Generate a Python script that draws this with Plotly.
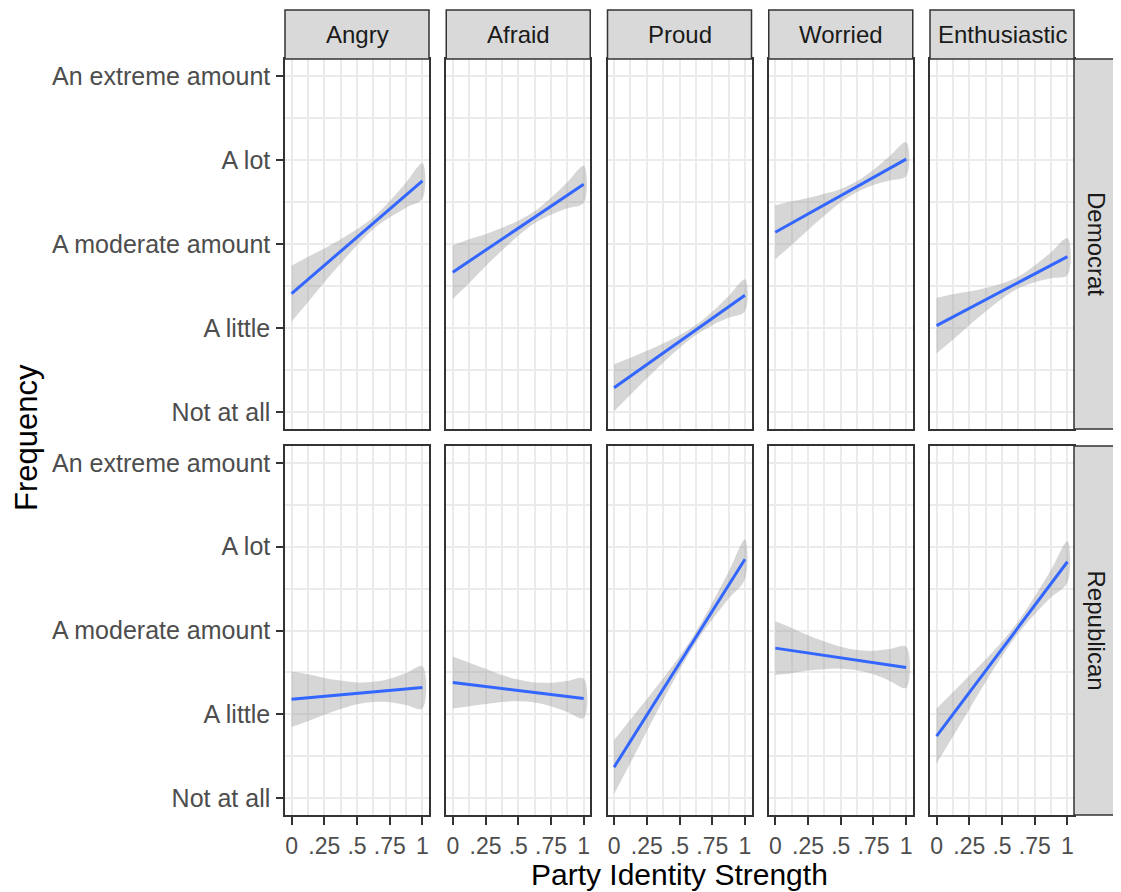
import plotly.graph_objects as go

# ---------------- data ----------------
emotions = ["Angry", "Afraid", "Proud", "Worried", "Enthusiastic"]
parties = ["Democrat", "Republican"]
freq_levels = [1, 2, 3, 4, 5]
freq_labels = ["Not at all", "A little", "A moderate amount", "A lot", "An extreme amount"]
x_ticks = [0, 0.25, 0.5, 0.75, 1]
x_ticklabels = ["0", ".25", ".5", ".75", "1"]

# fitted line values at strength 0 and 1
dem_fit_start = [2.41, 2.665, 1.29, 3.14, 2.03]
dem_fit_end = [3.75, 3.71, 2.39, 4.01, 2.85]
rep_fit_start = [2.18, 2.38, 1.37, 2.79, 1.74]
rep_fit_end = [2.32, 2.19, 3.85, 2.56, 3.82]

# confidence band half-widths at strength 0, .125, ..., 1
band_x = [0, 0.125, 0.25, 0.375, 0.5, 0.625, 0.75, 0.875, 1]
dem_halfwidth = [
    [0.33, 0.27, 0.20, 0.145, 0.094, 0.07, 0.097, 0.15, 0.21],
    [0.32, 0.26, 0.19, 0.135, 0.09, 0.07, 0.10, 0.155, 0.22],
    [0.28, 0.22, 0.165, 0.115, 0.075, 0.06, 0.08, 0.13, 0.19],
    [0.32, 0.26, 0.19, 0.13, 0.08, 0.065, 0.09, 0.145, 0.20],
    [0.33, 0.27, 0.20, 0.14, 0.09, 0.07, 0.10, 0.155, 0.22],
]
rep_halfwidth = [
    [0.33, 0.28, 0.22, 0.17, 0.13, 0.12, 0.14, 0.19, 0.25],
    [0.31, 0.26, 0.21, 0.16, 0.13, 0.12, 0.14, 0.185, 0.235],
    [0.32, 0.26, 0.19, 0.13, 0.08, 0.065, 0.10, 0.16, 0.235],
    [0.32, 0.27, 0.21, 0.165, 0.13, 0.12, 0.14, 0.19, 0.245],
    [0.33, 0.265, 0.20, 0.135, 0.085, 0.07, 0.105, 0.165, 0.245],
]

# ---------------- layout geometry (pixels, page coords) ----------------
W, H = 1121, 892
OFF = 8  # browser default body margin
FW, FH = W - OFF, H - OFF
col_left = [285, 446.25, 607.5, 768.75, 930]
panel_w = 144
row_top = [59, 446]
panel_h = [370, 369]
strip_top = 10
strip_right_w = 60

def px_x(v):
    return (v - OFF) / FW

def px_y(v):
    return 1 - (v - OFF) / FH

FONT = "Liberation Sans, Arial, Helvetica, sans-serif"
fig = go.Figure()
line_color = "#3366FF"
band_fill = "rgba(153,153,153,0.4)"

fits_start = [dem_fit_start, rep_fit_start]
fits_end = [dem_fit_end, rep_fit_end]
halfw = [dem_halfwidth, rep_halfwidth]

for r in range(2):
    for c in range(5):
        n = r * 5 + c + 1
        xa = "x" if n == 1 else f"x{n}"
        ya = "y" if n == 1 else f"y{n}"
        y0, y1 = fits_start[r][c], fits_end[r][c]
        fit_at = [y0 + (y1 - y0) * bx for bx in band_x]
        upper = [f + h for f, h in zip(fit_at, halfw[r][c])]
        lower = [f - h for f, h in zip(fit_at, halfw[r][c])]
        fig.add_trace(go.Scatter(
            x=band_x + band_x[::-1], y=upper + lower[::-1],
            fill="toself", fillcolor=band_fill, line=dict(width=0, shape="spline"),
            mode="lines", hoverinfo="skip", showlegend=False,
            xaxis=xa, yaxis=ya))
        fig.add_trace(go.Scatter(
            x=[0, 1], y=[y0, y1], mode="lines",
            line=dict(color=line_color, width=3),
            showlegend=False, xaxis=xa, yaxis=ya))

        xd = [px_x(col_left[c]), px_x(col_left[c] + panel_w)]
        yd = [px_y(row_top[r] + panel_h[r]), px_y(row_top[r])]
        xkey = "xaxis" if n == 1 else f"xaxis{n}"
        ykey = "yaxis" if n == 1 else f"yaxis{n}"
        show_x = (r == 1)
        show_y = (c == 0)
        fig.layout[xkey] = dict(
            domain=xd, anchor=ya, range=[-0.05, 1.05],
            tickmode="array", tickvals=x_ticks, ticktext=x_ticklabels,
            showticklabels=show_x, ticks="outside" if show_x else "",
            ticklen=8, tickwidth=2, tickcolor="#333333", ticklabelstandoff=2,
            tickfont=dict(family=FONT, size=23, color="#4D4D4D"),
            showgrid=True, gridcolor="#EBEBEB", gridwidth=2,
            minor=dict(tickmode="array", tickvals=[0.125, 0.375, 0.625, 0.875],
                       showgrid=True, gridcolor="#EBEBEB", gridwidth=1.6, ticks=""),
            zeroline=False, showline=True, linecolor="#333333", linewidth=1.5,
            mirror=True, fixedrange=True, automargin=False)
        fig.layout[ykey] = dict(
            domain=yd, anchor=xa, range=[0.8, 5.2],
            tickmode="array", tickvals=freq_levels, ticktext=freq_labels,
            showticklabels=show_y, ticks="outside" if show_y else "",
            ticklen=7, tickwidth=2, tickcolor="#333333", ticklabelstandoff=1,
            tickfont=dict(family=FONT, size=25, color="#4D4D4D"),
            showgrid=True, gridcolor="#EBEBEB", gridwidth=2,
            minor=dict(tickmode="array", tickvals=[1.5, 2.5, 3.5, 4.5],
                       showgrid=True, gridcolor="#EBEBEB", gridwidth=1.6, ticks=""),
            zeroline=False, showline=True, linecolor="#333333", linewidth=1.5,
            mirror=True, fixedrange=True, automargin=False)

shapes = []
annotations = []
# top strips
for c, name in enumerate(emotions):
    x0, x1 = col_left[c], col_left[c] + panel_w
    shapes.append(dict(type="rect", xref="paper", yref="paper",
                       x0=px_x(x0), x1=px_x(x1), y0=px_y(row_top[0]), y1=px_y(strip_top),
                       fillcolor="#D9D9D9", line=dict(color="#333333", width=1.5),
                       layer="above"))
    annotations.append(dict(xref="paper", yref="paper", x=px_x((x0 + x1) / 2),
                            y=px_y((strip_top + row_top[0]) / 2), text=name,
                            showarrow=False, xanchor="center", yanchor="middle",
                            font=dict(family=FONT, size=24, color="#1A1A1A")))
# right strips
rx0 = col_left[4] + panel_w
for r, name in enumerate(parties):
    shapes.append(dict(type="rect", xref="paper", yref="paper",
                       x0=px_x(rx0), x1=px_x(rx0 + strip_right_w),
                       y0=px_y(row_top[r] + panel_h[r]), y1=px_y(row_top[r]),
                       fillcolor="#D9D9D9", line=dict(color="#333333", width=1.5),
                       layer="above"))
    annotations.append(dict(xref="paper", yref="paper", x=px_x(rx0 + 22),
                            y=px_y(row_top[r] + panel_h[r] / 2), text=name,
                            showarrow=False, xanchor="center", yanchor="middle",
                            textangle=90,
                            font=dict(family=FONT, size=24, color="#1A1A1A")))

annotations.append(dict(xref="paper", yref="paper", x=px_x(679), y=px_y(874),
                        text="Party Identity Strength", showarrow=False,
                        xanchor="center", yanchor="middle", borderpad=0,
                        font=dict(family=FONT, size=30, color="#000000")))
annotations.append(dict(xref="paper", yref="paper", x=px_x(26), y=px_y(438),
                        text="Frequency", showarrow=False, textangle=-90,
                        xanchor="center", yanchor="middle", borderpad=0,
                        font=dict(family=FONT, size=31, color="#000000")))

fig.update_layout(width=FW, height=FH, margin=dict(l=0, r=0, t=0, b=0, autoexpand=False),
                  paper_bgcolor="white", plot_bgcolor="white",
                  shapes=shapes, annotations=annotations, showlegend=False)

fig.write_html("out.html")
